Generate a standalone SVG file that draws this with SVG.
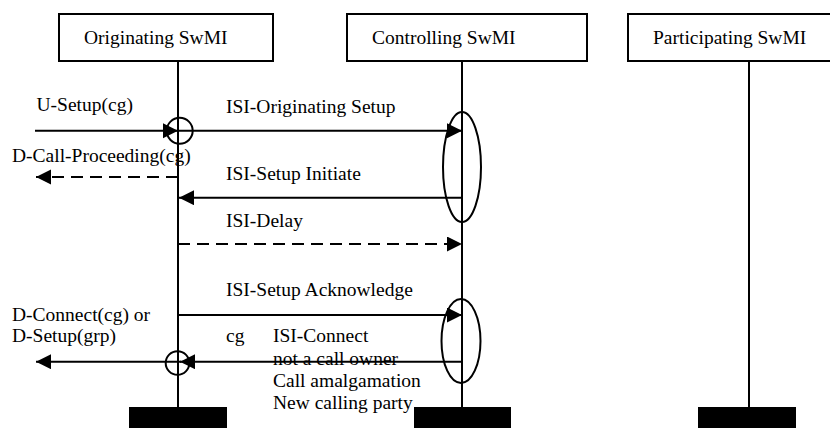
<svg xmlns="http://www.w3.org/2000/svg" width="830" height="428" viewBox="0 0 830 428">
<style>
  .box { fill: #fff; stroke: #000; stroke-width: 2; }
  .life { stroke: #000; stroke-width: 2; fill: none; }
  .bar { fill: #000; }
  .t { font-family: "Liberation Serif", "Times New Roman", serif; font-size: 19.5px; fill: #000; }
  .msg { stroke: #000; stroke-width: 2; fill: none; marker-end: url(#ah); }
  .dash { stroke-dasharray: 12 7; }
  .ring { stroke: #000; stroke-width: 2; fill: none; }
</style>
<defs>
  <marker id="ah" markerUnits="userSpaceOnUse" markerWidth="16" markerHeight="16" refX="15" refY="7.5" orient="auto">
    <path d="M0,0 L15,7.5 L0,15 z" fill="#000"/>
  </marker>
</defs>
<rect width="830" height="428" fill="#fff"/>

<g id="originating">
  <rect class="box" x="59" y="14" width="214" height="47"/>
  <text class="t" x="84" y="44">Originating SwMI</text>
  <line class="life" x1="178" y1="61" x2="178" y2="408"/>
  <rect class="bar" x="129" y="407" width="98" height="22"/>
</g>
<g id="controlling">
  <rect class="box" x="347" y="14" width="240" height="47"/>
  <text class="t" x="372" y="44">Controlling SwMI</text>
  <line class="life" x1="462" y1="61" x2="462" y2="408"/>
  <rect class="bar" x="414" y="407" width="97" height="22"/>
</g>
<g id="participating">
  <rect class="box" x="628" y="14" width="210" height="47"/>
  <text class="t" x="653" y="44">Participating SwMI</text>
  <line class="life" x1="749" y1="61" x2="749" y2="408"/>
  <rect class="bar" x="698" y="407" width="98" height="22"/>
</g>

<g id="connectors">
  <line class="msg" x1="35" y1="130.7" x2="178" y2="130.7"/>
  <line class="msg" x1="178" y1="130.7" x2="462" y2="130.7"/>
  <line class="msg dash" x1="178" y1="177" x2="36" y2="177"/>
  <line class="msg" x1="462" y1="197.7" x2="179" y2="197.7"/>
  <line class="msg dash" x1="178" y1="244" x2="462" y2="244"/>
  <line class="msg" x1="178" y1="315" x2="462" y2="315"/>
  <line class="msg" x1="462" y1="361.7" x2="180" y2="361.7"/>
  <line class="msg" x1="181" y1="361.7" x2="36" y2="361.7"/>
  <circle class="ring" cx="179.7" cy="130.8" r="13"/>
  <circle class="ring" cx="177.5" cy="363" r="11.8"/>
  <ellipse class="ring" cx="462" cy="167" rx="19" ry="55"/>
  <ellipse class="ring" cx="461" cy="341" rx="19.5" ry="42"/>
</g>

<g id="labels">
  <text class="t" x="36.5" y="111">U-Setup(cg)</text>
  <text class="t" x="226" y="113">ISI-Originating Setup</text>
  <text class="t" x="12" y="162">D-Call-Proceeding(cg)</text>
  <text class="t" x="226" y="180">ISI-Setup Initiate</text>
  <text class="t" x="226" y="227">ISI-Delay</text>
  <text class="t" x="226" y="296">ISI-Setup Acknowledge</text>
  <text class="t" x="12" y="321">D-Connect(cg) or</text>
  <text class="t" x="12" y="342">D-Setup(grp)</text>
  <text class="t" x="226" y="342">cg</text>
  <text class="t" x="273" y="342">ISI-Connect</text>
  <text class="t" x="273" y="365">not a call owner</text>
  <text class="t" x="273" y="387">Call amalgamation</text>
  <text class="t" x="273" y="409">New calling party</text>
</g>
</svg>
